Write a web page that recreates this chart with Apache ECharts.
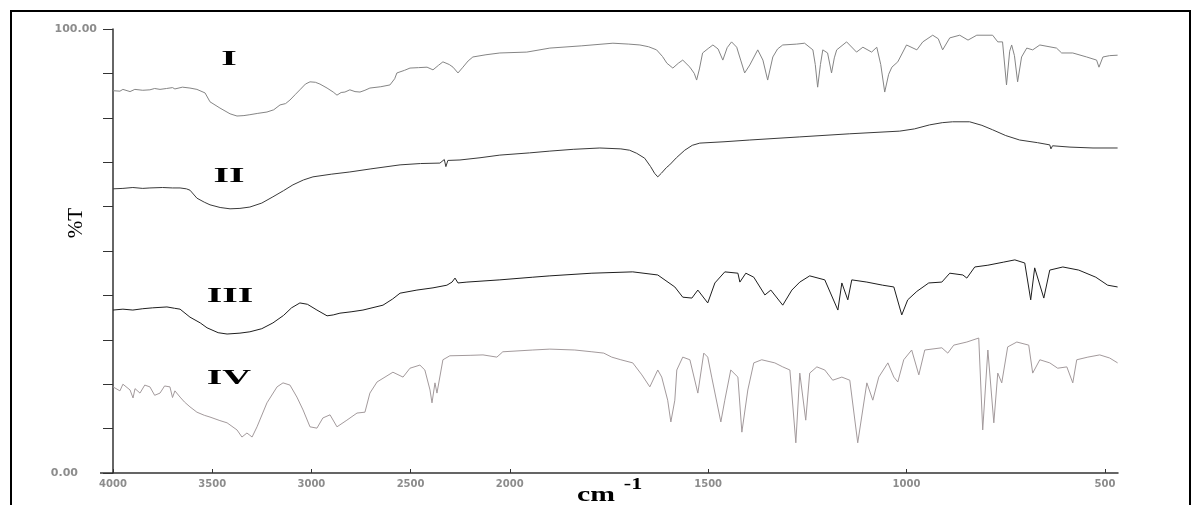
<!DOCTYPE html>
<html><head><meta charset="utf-8">
<script src="https://cdn.jsdelivr.net/npm/echarts@6/dist/echarts.min.js"></script>
<style>html,body{margin:0;padding:0;background:#fff}#c{width:1200px;height:505px}</style>
</head><body><div id="c"></div>
<script>
// x ticks (cm-1) and y tick labels
const xTicks = [4000, 3500, 3000, 2500, 2000, 1500, 1000, 500];
const yLabels = { 0: '0.00', 100: '100.00' };
const seriesNames = ['I', 'II', 'III', 'IV'];

// [wavenumber cm-1, %T]
const specI = [[4000,86.1],[3965,86.0],[3950,86.4],[3914,85.9],[3890,86.4],[3850,86.2],[3814,86.3],[3790,86.6],[3763,86.4],[3730,86.6],[3700,86.8],[3688,86.5],[3650,86.9],[3612,86.7],[3577,86.4],[3536,85.6],[3511,83.6],[3461,82.2],[3410,80.9],[3375,80.4],[3340,80.5],[3310,80.7],[3270,81.0],[3224,81.3],[3190,81.8],[3158,82.9],[3130,83.2],[3108,84.0],[3080,85.3],[3058,86.3],[3030,87.6],[3007,88.1],[2980,88.0],[2957,87.6],[2921,86.7],[2890,85.8],[2871,85.1],[2850,85.7],[2831,85.8],[2806,86.3],[2780,85.9],[2755,85.8],[2730,86.2],[2705,86.7],[2650,87.0],[2604,87.4],[2580,88.8],[2569,90.1],[2530,90.7],[2503,91.2],[2460,91.3],[2417,91.4],[2387,90.8],[2360,91.8],[2337,92.6],[2305,92.0],[2286,91.4],[2261,90.1],[2236,91.4],[2210,92.8],[2186,93.7],[2120,94.2],[2050,94.6],[1957,94.8],[1899,95.7],[1820,96.2],[1740,96.8],[1700,96.6],[1672,96.4],[1650,96.0],[1630,95.3],[1615,93.8],[1604,92.3],[1589,91.2],[1575,92.3],[1564,93.0],[1546,91.4],[1535,90.0],[1529,88.5],[1522,91.0],[1514,94.6],[1500,95.6],[1488,96.4],[1475,95.5],[1463,93.0],[1452,95.8],[1441,97.1],[1428,95.9],[1418,93.0],[1408,90.1],[1395,91.9],[1375,95.3],[1362,93.0],[1350,88.5],[1337,93.7],[1325,95.5],[1312,96.4],[1277,96.6],[1257,96.8],[1236,95.3],[1230,92.0],[1224,86.9],[1217,92.0],[1211,95.3],[1199,94.6],[1189,90.1],[1182,93.5],[1176,95.3],[1151,97.1],[1126,94.8],[1110,95.9],[1088,94.8],[1075,95.9],[1065,92.0],[1055,85.8],[1045,89.8],[1037,91.4],[1022,92.6],[1000,96.4],[974,95.3],[959,97.1],[934,98.6],[920,97.8],[909,95.3],[891,98.0],[866,98.6],[845,97.5],[823,98.6],[783,98.6],[770,97.1],[758,97.1],[748,87.4],[740,95.0],[735,96.4],[728,94.0],[720,88.1],[710,93.7],[697,95.7],[682,95.3],[664,96.4],[622,95.7],[609,94.6],[581,94.6],[546,93.7],[521,93.0],[515,91.4],[505,93.7],[488,94.0],[468,94.1]];

const specII = [[4000,64.0],[3950,64.1],[3900,64.3],[3850,64.1],[3814,64.2],[3750,64.3],[3700,64.2],[3662,64.2],[3630,64.0],[3612,63.7],[3577,61.9],[3540,61.0],[3511,60.4],[3460,59.8],[3410,59.5],[3360,59.6],[3310,59.9],[3250,60.8],[3194,62.2],[3140,63.6],[3093,64.9],[3040,66.0],[2992,66.7],[2900,67.3],[2806,67.8],[2700,68.5],[2553,69.4],[2450,69.7],[2352,69.8],[2330,70.6],[2322,69.0],[2312,70.4],[2302,70.3],[2251,70.5],[2150,71.0],[2050,71.6],[1950,72.1],[1899,72.5],[1840,72.9],[1773,73.2],[1720,73.0],[1698,72.7],[1680,72.0],[1660,70.9],[1645,69.0],[1635,67.5],[1627,66.7],[1618,67.5],[1605,68.8],[1597,69.4],[1580,71.0],[1559,72.7],[1540,73.8],[1521,74.3],[1460,74.6],[1395,75.0],[1269,75.7],[1143,76.4],[1017,77.0],[980,77.5],[942,78.4],[910,78.9],[884,79.1],[841,79.1],[810,78.3],[783,77.3],[750,76.0],[715,75.0],[670,74.4],[639,73.9],[636,73.0],[632,73.7],[588,73.4],[530,73.2],[468,73.2]];

const specIII = [[4000,36.7],[3950,36.9],[3900,36.7],[3850,37.0],[3800,37.2],[3728,37.4],[3690,37.1],[3662,36.9],[3612,35.1],[3560,33.8],[3526,32.7],[3470,31.6],[3425,31.3],[3360,31.5],[3310,31.8],[3250,32.5],[3194,33.8],[3140,35.5],[3100,37.2],[3058,38.3],[3020,38.0],[2972,36.7],[2921,35.4],[2890,35.6],[2856,36.0],[2800,36.3],[2740,36.7],[2639,37.8],[2590,39.2],[2553,40.5],[2468,41.2],[2387,41.7],[2317,42.3],[2291,43.0],[2276,43.9],[2261,42.8],[2216,43.0],[2050,43.5],[1942,44.1],[1899,44.4],[1793,45.0],[1690,45.3],[1627,44.6],[1584,41.9],[1564,39.6],[1541,39.4],[1526,41.2],[1501,38.3],[1483,42.8],[1458,45.3],[1425,45.0],[1420,43.0],[1405,45.0],[1385,44.1],[1357,40.1],[1342,41.2],[1312,37.8],[1289,41.2],[1269,43.0],[1244,44.4],[1206,43.5],[1173,36.7],[1163,42.8],[1148,39.0],[1138,43.5],[1100,43.0],[1060,42.3],[1032,41.9],[1012,35.6],[997,39.0],[974,40.9],[944,42.8],[911,43.0],[891,45.0],[858,44.6],[848,43.9],[828,46.4],[795,46.8],[755,47.5],[727,48.0],[702,47.3],[687,39.0],[677,46.2],[654,39.4],[639,45.7],[606,46.4],[566,45.7],[523,44.1],[493,42.3],[468,41.9]];

const specIV = [[4000,19.4],[3965,18.5],[3950,20.0],[3914,18.7],[3899,16.9],[3889,19.0],[3864,18.0],[3840,19.8],[3814,19.4],[3790,17.5],[3763,18.0],[3740,19.6],[3713,19.4],[3700,17.0],[3688,18.5],[3662,17.1],[3640,16.0],[3612,14.9],[3577,13.7],[3540,13.0],[3511,12.6],[3461,11.8],[3425,11.3],[3375,9.7],[3350,8.1],[3325,9.0],[3310,8.5],[3299,8.1],[3274,10.4],[3224,15.8],[3173,19.4],[3143,20.3],[3108,19.8],[3073,17.1],[3042,14.2],[3007,10.4],[2972,10.1],[2942,12.4],[2906,13.1],[2871,10.4],[2821,11.9],[2770,13.5],[2730,13.7],[2705,18.0],[2669,20.5],[2589,22.7],[2538,21.6],[2503,23.6],[2453,24.3],[2428,23.2],[2402,18.7],[2392,15.8],[2377,20.3],[2367,18.0],[2337,25.5],[2302,26.4],[2200,26.5],[2135,26.6],[2065,26.1],[2035,27.3],[1942,27.7],[1899,27.9],[1836,27.7],[1793,27.3],[1763,27.0],[1743,26.1],[1720,25.5],[1690,24.8],[1667,22.1],[1647,19.4],[1627,23.2],[1617,21.6],[1602,16.4],[1594,11.5],[1584,16.4],[1579,23.2],[1564,26.1],[1546,25.5],[1526,18.0],[1511,27.0],[1501,26.1],[1491,21.6],[1468,11.5],[1458,16.4],[1443,23.2],[1425,21.6],[1415,9.2],[1400,18.7],[1385,24.8],[1365,25.5],[1332,24.8],[1312,23.9],[1294,23.2],[1279,6.8],[1269,22.5],[1254,11.9],[1244,22.5],[1226,23.9],[1206,23.2],[1186,20.9],[1163,21.6],[1143,20.9],[1123,6.8],[1100,20.3],[1085,16.4],[1070,21.6],[1047,24.8],[1032,21.6],[1022,20.5],[1007,25.5],[987,27.7],[969,22.1],[954,27.7],[911,28.2],[896,27.0],[881,28.8],[848,29.5],[818,30.4],[808,9.7],[795,27.7],[780,11.3],[770,22.5],[760,20.3],[745,28.4],[722,29.5],[692,28.8],[682,22.5],[664,25.5],[639,24.8],[619,23.6],[596,23.9],[581,20.3],[571,25.5],[543,26.1],[513,26.6],[488,25.9],[468,24.8]];

// Spectrometer x scale: 4000-2000 compressed, 2000-467 expanded x2
function toU(wn) { return wn >= 2000 ? 4000 - wn : 2000 + 2 * (2000 - wn); }
function fromU(u) { return u <= 2000 ? 4000 - u : 2000 - (u - 2000) / 2; }
const xMin = 4000, xMax = 467;

const colors = ['#858585', '#3a3a3a', '#1e1e1e', '#a39a9c'];
const specs = [specI, specII, specIII, specIV];

const chart = echarts.init(document.getElementById('c'), null, { renderer: 'canvas' });
const lblFont = { color: '#8c8c8c', fontFamily: 'DejaVu Sans', fontWeight: 'bold', fontSize: 11 };
const romanPos = [[229, 60], [229, 177], [230, 297], [229, 379]];

chart.setOption({
  animation: false,
  backgroundColor: '#fff',
  grid: { left: 113, right: 82, top: 29, bottom: 32 },
  xAxis: {
    type: 'value', min: toU(xMin), max: toU(xMax),
    axisLine: { show: true, onZero: false, lineStyle: { color: '#333', width: 1.5 } },
    axisTick: { show: true, inside: true, length: 4, customValues: xTicks.map(toU), lineStyle: { color: '#333' } },
    axisLabel: Object.assign({ customValues: xTicks.map(toU), margin: 6,
      formatter: v => String(Math.round(fromU(v))) }, lblFont, { fontSize: 10 }),
    splitLine: { show: false }
  },
  yAxis: {
    type: 'value', min: 0, max: 100, interval: 10,
    axisLine: { show: true, lineStyle: { color: '#333', width: 1.5 } },
    axisTick: { show: true, length: 10, lineStyle: { color: '#333' } },
    axisLabel: Object.assign({ margin: 16,
      formatter: v => v === 100 ? yLabels[100] : (v === 0 ? '{z|' + yLabels[0] + '}' : ''),
      rich: { z: Object.assign({ padding: [0, 19, 0, 0] }, lblFont) } }, lblFont),
    splitLine: { show: false }
  },
  series: specs.map((s, i) => ({
    name: seriesNames[i], type: 'line', showSymbol: false, symbol: 'none',
    data: s.map(p => [toU(p[0]), p[1]]),
    lineStyle: { color: colors[i], width: 1 }, itemStyle: { color: colors[i] }
  })),
  graphic: [
    { type: 'rect', shape: { x: 11, y: 11, width: 1179, height: 530 }, style: { fill: 'none', stroke: '#000', lineWidth: 2 }, silent: true },
    { type: 'line', shape: { x1: 100, y1: 473, x2: 113, y2: 473 }, style: { stroke: '#333', lineWidth: 1.5 }, silent: true },
    ...seriesNames.map((n, i) => ({
      type: 'text', x: romanPos[i][0], y: romanPos[i][1], scaleX: 1.9,
      style: { text: n, fill: '#000', font: 'bold 21px "Liberation Serif"', textAlign: 'center', textVerticalAlign: 'middle' }
    })),
    { type: 'text', x: 596, y: 495, scaleX: 1.35, style: { text: 'cm', fill: '#000', font: 'bold 22px "Liberation Serif"', textAlign: 'center', textVerticalAlign: 'middle' } },
    { type: 'text', x: 633, y: 485, scaleX: 1.3, style: { text: '-1', fill: '#000', font: 'bold 17px "Liberation Serif"', textAlign: 'center', textVerticalAlign: 'middle' } },
    { type: 'text', x: 76, y: 223, rotation: Math.PI / 2, style: { text: '%T', fill: '#000', font: '21px "Liberation Serif"', textAlign: 'center', textVerticalAlign: 'middle' } }
  ]
});
</script></body></html>
